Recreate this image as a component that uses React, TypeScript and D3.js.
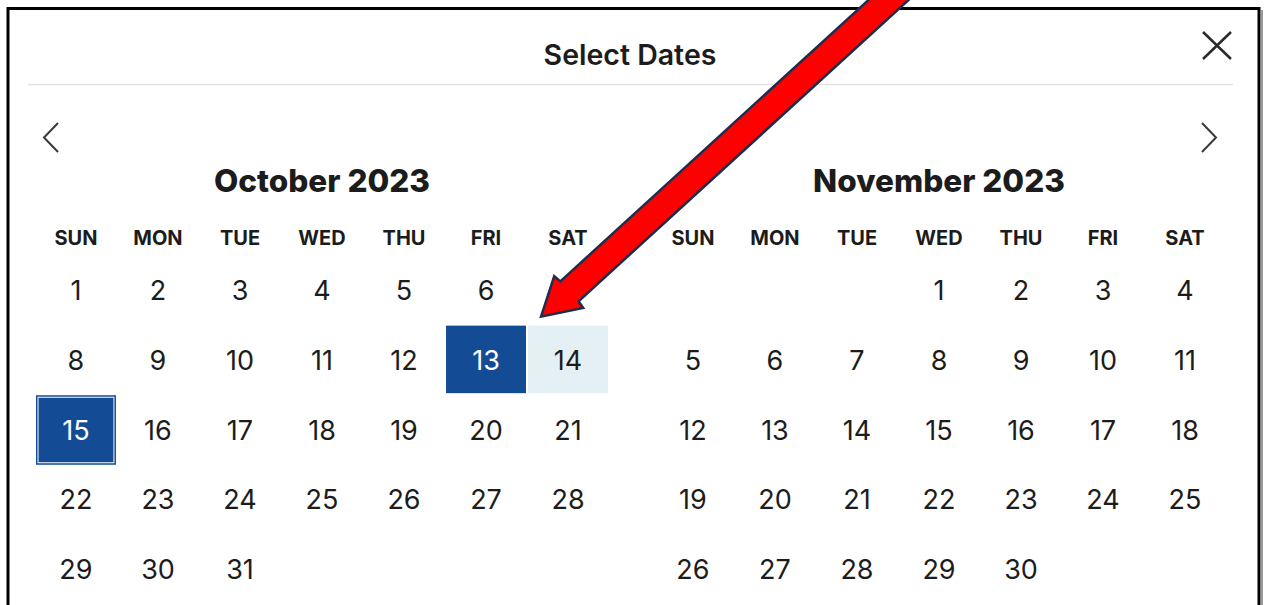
import * as d3 from 'd3'

// calendar content
const title = 'Select Dates'
const monthStarts = [new Date(2023, 9, 1), new Date(2023, 10, 1)]
const monthTitles = ['October 2023', 'November 2023']
const weekdayLabels = ['SUN', 'MON', 'TUE', 'WED', 'THU', 'FRI', 'SAT']
// highlighted cells: [month index, day, kind]
const highlights: [number, number, string][] = [
    [0, 13, 'selected'],
    [0, 14, 'hover'],
    [0, 15, 'focus'],
]
// the red arrow points at this cell
const arrowTarget: [number, number] = [0, 14]

const W = 1264
const H = 605
const font = 'Inter, "Noto Sans", sans-serif'
const blue = '#134b94'
const paleBlue = '#e5f0f5'
const ink = '#1c1c1c'

const rowScale = d3.scaleBand<number>().domain(d3.range(5)).range([256, 602]).paddingInner(0.03)
const colScales = [
    d3.scaleBand<number>().domain(d3.range(7)).range([36, 608]).paddingInner(0.025),
    d3.scaleBand<number>().domain(d3.range(7)).range([653, 1225]).paddingInner(0.025),
]

const monthDays = (start: Date) =>
    d3.timeDays(start, d3.timeMonth.offset(start, 1)).map(d => ({
        day: d.getDate(),
        col: d.getDay(),
        row: d3.timeWeek.count(start, d),
    }))

const cellOf = (m: number, day: number) => {
    const d = monthDays(monthStarts[m]).find(x => x.day === day)!
    return { x: colScales[m](d.col)!, y: rowScale(d.row)!, w: colScales[m].bandwidth(), h: rowScale.bandwidth() }
}

// arrow outline in (along, across) coordinates from the tip
const arrowShape: [number, number][] = [
    [0, 0], [37, -21], [38, -13], [620, -13], [620, 14], [38, 14], [37, 22],
]

const Arrow = () => {
    const c = cellOf(arrowTarget[0], arrowTarget[1])
    const tip = [c.x + 13, c.y - 9]
    const a = (42.4 * Math.PI) / 180
    const u = [Math.cos(a), -Math.sin(a)]
    const n = [Math.sin(a), Math.cos(a)]
    const pts = arrowShape.map(([s, t]) => [tip[0] + s * u[0] + t * n[0], tip[1] + s * u[1] + t * n[1]] as [number, number])
    const line = d3.line().curve(d3.curveLinearClosed)
    return <path d={line(pts)!} fill='#ff0000' stroke='#1f2d4d' strokeWidth={2.5} strokeLinejoin='miter' />
}

const Month = ({ m }: { m: number }) => {
    const x = colScales[m]
    const bw = x.bandwidth()
    const days = monthDays(monthStarts[m])
    const hl = highlights.filter(h => h[0] === m)
    const [x0, x1] = x.range()
    return (
        <g>
            <text x={(x0 + x1) / 2} y={180} textAnchor='middle' dominantBaseline='central'
                fontFamily={font} fontWeight={800} fontSize={31.5} fill={ink}>{monthTitles[m]}</text>
            {weekdayLabels.map((w, i) => (
                <text key={w} x={x(i)! + bw / 2} y={238} textAnchor='middle' dominantBaseline='central'
                    fontFamily={font} fontWeight={700} fontSize={20} fill={ink}>{w}</text>
            ))}
            {hl.map(([, day, kind]) => {
                const c = cellOf(m, day)
                if (kind === 'hover') return <rect key={day} x={c.x} y={c.y} width={c.w} height={c.h} fill={paleBlue} />
                if (kind === 'selected') return <rect key={day} x={c.x} y={c.y} width={c.w} height={c.h} fill={blue} />
                return (
                    <g key={day}>
                        <rect x={c.x} y={c.y} width={c.w} height={c.h + 2} fill={blue} />
                        <rect x={c.x + 2} y={c.y + 2} width={c.w - 4} height={c.h - 2} fill='none' stroke='#ffffff' strokeWidth={1} />
                    </g>
                )
            })}
            {days.map(d => {
                const dark = hl.some(h => h[1] === d.day && h[2] !== 'hover')
                return (
                    <text key={d.day} x={x(d.col)! + bw / 2} y={rowScale(d.row)! + rowScale.bandwidth() / 2 + 1}
                        textAnchor='middle' dominantBaseline='central' fontFamily={font} fontWeight={400}
                        fontSize={27} fill={dark ? '#ffffff' : ink}>{d.day}</text>
                )
            })}
        </g>
    )
}

const App = () => {
    return (
        <svg width={W} height={H} style={{ position: 'absolute', left: 0, top: 0, background: '#ffffff' }}>
            {/* dialog frame */}
            <line x1={1262} x2={1262} y1={10} y2={H} stroke='#9a9a9a' strokeWidth={2} />
            <rect x={8} y={8.5} width={1251} height={700} fill='#ffffff' stroke='#000000' strokeWidth={3} />

            <text x={630} y={54} textAnchor='middle' dominantBaseline='central'
                fontFamily={font} fontWeight={600} fontSize={28.5} fill={ink}>{title}</text>
            <line x1={28} x2={1233} y1={84.5} y2={84.5} stroke='#e2e2e2' strokeWidth={1.5} />

            {/* close */}
            <path d='M1203,32 L1231,59 M1231,32 L1203,59' stroke='#2a2a2a' strokeWidth={2.5} fill='none' />
            {/* month navigation */}
            <path d='M58,123 L44,137.5 L58,152' stroke='#3a3a3a' strokeWidth={2} fill='none' />
            <path d='M1202,123 L1216,137.5 L1202,152' stroke='#3a3a3a' strokeWidth={2} fill='none' />

            {monthStarts.map((_, m) => <Month key={m} m={m} />)}

            <Arrow />
        </svg>
    )
}

export default App
